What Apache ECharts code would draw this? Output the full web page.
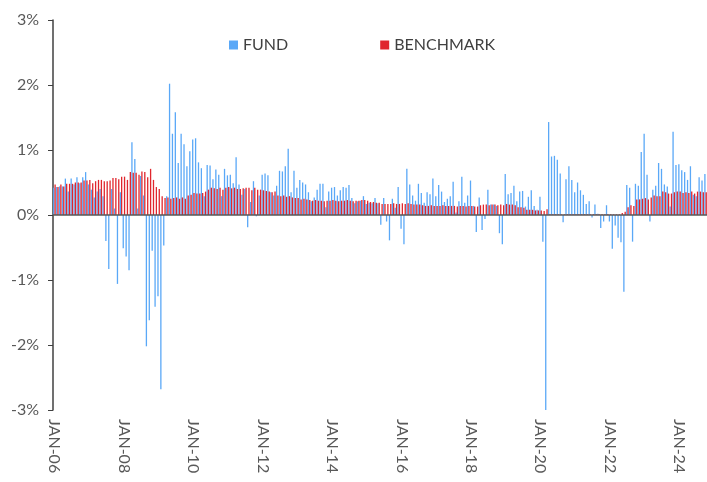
<!DOCTYPE html>
<html>
<head>
<meta charset="utf-8">
<script src="https://cdn.jsdelivr.net/npm/echarts@6/dist/echarts.min.js"></script>
<style>
  html, body { margin: 0; padding: 0; background: #fff; }
  #chart { width: 707px; height: 482px; }
</style>
</head>
<body>
<div id="chart"></div>
<script>
// monthly returns in %, Jan 2006 - Oct 2024
var fund = [
  0.42, 0.43, 0.44, 0.44, 0.56, 0.36, 0.56, 0.47, 0.58, 0.49, 0.58, 0.66,   // 2006
  0.47, 0.39, 0.27, 0.36, 0.40, 0.29, -0.40, -0.83, 0.40, 0.10, -1.06, 0.35, // 2007
  -0.51, -0.64, -0.85, 1.12, 0.86, 0.10, 0.60, 0.30, -2.02, -1.62, -0.55, -1.41, // 2008
  -1.25, -2.68, -0.47, 0.29, 2.02, 1.25, 1.58, 0.80, 1.25, 1.09, 0.75, 0.98, // 2009
  1.16, 1.18, 0.81, 0.72, 0.29, 0.77, 0.76, 0.55, 0.70, 0.62, 0.29, 0.71,   // 2010
  0.61, 0.62, 0.49, 0.89, 0.47, 0.31, 0.40, -0.19, 0.20, 0.52, -0.02, 0.30, // 2011
  0.62, 0.64, 0.61, 0.35, 0.30, 0.45, 0.68, 0.67, 0.75, 1.02, 0.35, 0.68,   // 2012
  0.42, 0.54, 0.50, 0.47, 0.35, 0.21, 0.27, 0.39, 0.48, 0.48, 0.12, 0.36,   // 2013
  0.42, 0.43, 0.30, 0.38, 0.43, 0.42, 0.46, 0.26, 0.18, 0.21, 0.22, 0.29,   // 2014
  0.17, 0.19, 0.18, 0.26, 0.18, -0.15, 0.26, -0.10, -0.39, 0.25, 0.11, 0.43, // 2015
  -0.21, -0.45, 0.71, 0.47, 0.30, 0.22, 0.48, 0.34, 0.19, 0.35, 0.32, 0.56, // 2016
  0.29, 0.46, 0.36, 0.20, 0.25, 0.29, 0.51, 0.04, 0.21, 0.59, 0.19, 0.30,   // 2017
  0.53, 0.14, -0.26, 0.27, -0.23, -0.06, 0.39, 0.16, 0.16, 0.14, -0.28, -0.45, // 2018
  0.63, 0.32, 0.34, 0.45, 0.21, 0.36, 0.37, 0.13, 0.28, 0.38, 0.14, 0.08,   // 2019
  0.28, -0.41, -3.05, 1.43, 0.90, 0.91, 0.85, 0.64, -0.11, 0.55, 0.75, 0.54, // 2020
  0.35, 0.50, 0.38, 0.31, 0.17, 0.21, -0.04, 0.16, 0.02, -0.20, -0.10, 0.15, // 2021
  -0.10, -0.52, -0.16, -0.35, -0.42, -1.18, 0.46, 0.42, -0.41, 0.48, 0.45, 0.97, // 2022
  1.25, 0.62, -0.10, 0.39, 0.45, 0.80, 0.71, 0.47, 0.44, 0.13, 1.28, 0.77,  // 2023
  0.78, 0.69, 0.66, 0.54, 0.75, 0.31, 0.29, 0.58, 0.53, 0.63              // 2024
];

var benchmark = [
  0.47, 0.43, 0.47, 0.44, 0.48, 0.48, 0.48, 0.50, 0.50, 0.50, 0.53, 0.53,
  0.54, 0.49, 0.52, 0.54, 0.54, 0.52, 0.52, 0.53, 0.57, 0.57, 0.55, 0.59,
  0.59, 0.54, 0.66, 0.65, 0.65, 0.62, 0.67, 0.66, 0.58, 0.71, 0.54, 0.43,
  0.40, 0.29, 0.26, 0.27, 0.25, 0.26, 0.27, 0.25, 0.27, 0.25, 0.30, 0.31,
  0.34, 0.33, 0.33, 0.34, 0.36, 0.39, 0.42, 0.41, 0.40, 0.42, 0.39, 0.42,
  0.43, 0.41, 0.42, 0.40, 0.40, 0.41, 0.42, 0.42, 0.38, 0.42, 0.39, 0.39,
  0.38, 0.37, 0.36, 0.35, 0.36, 0.30, 0.29, 0.30, 0.28, 0.29, 0.27, 0.26,
  0.26, 0.24, 0.25, 0.24, 0.23, 0.22, 0.23, 0.22, 0.22, 0.21, 0.22, 0.22,
  0.23, 0.22, 0.21, 0.22, 0.22, 0.23, 0.22, 0.21, 0.22, 0.22, 0.23, 0.23,
  0.22, 0.20, 0.20, 0.19, 0.19, 0.17, 0.17, 0.17, 0.17, 0.18, 0.17, 0.17,
  0.18, 0.17, 0.18, 0.17, 0.16, 0.16, 0.16, 0.15, 0.14, 0.14, 0.15, 0.14,
  0.14, 0.14, 0.15, 0.14, 0.14, 0.14, 0.14, 0.13, 0.14, 0.14, 0.13, 0.14,
  0.14, 0.13, 0.13, 0.15, 0.16, 0.16, 0.15, 0.16, 0.16, 0.15, 0.16, 0.15,
  0.17, 0.16, 0.16, 0.15, 0.12, 0.12, 0.11, 0.08, 0.08, 0.08, 0.07, 0.07,
  0.07, 0.06, 0.09, 0.01, 0.01, 0.01, 0.01, 0.01, 0.01, 0.01, 0.01, 0.01,
  0.01, 0.01, 0.01, 0.01, 0.01, 0.01, 0.01, 0.01, 0.01, 0.01, 0.01, 0.01,
  0.01, 0.01, 0.01, 0.01, 0.03, 0.05, 0.12, 0.15, 0.14, 0.24, 0.24, 0.25,
  0.26, 0.24, 0.27, 0.30, 0.29, 0.29, 0.36, 0.35, 0.33, 0.33, 0.35, 0.36,
  0.36, 0.34, 0.35, 0.34, 0.36, 0.33, 0.36, 0.36, 0.35, 0.35
];

var monthNames = ['JAN', 'FEB', 'MAR', 'APR', 'MAY', 'JUN', 'JUL', 'AUG', 'SEP', 'OCT', 'NOV', 'DEC'];
var startYear = 2006;

// category labels: JAN-06, FEB-06, ...
var months = [];
for (var i = 0; i < fund.length; i++) {
  var yy = (startYear + Math.floor(i / 12)) % 100;
  months.push(monthNames[i % 12] + '-' + (yy < 10 ? '0' + yy : '' + yy));
}

var yTicks = [-3, -2, -1, 0, 1, 2, 3];

var chart = echarts.init(document.getElementById('chart'));

var font = 'Lato, "Noto Sans", sans-serif';

chart.setOption({
  animation: false,
  legend: {
    top: 32,
    left: 224,
    itemWidth: 9,
    itemHeight: 9,
    itemGap: 92,
    icon: 'rect',
    textStyle: { color: '#404040', fontSize: 16, fontFamily: font },
    data: [
      { name: 'FUND', itemStyle: { color: '#5aa8f7' } },
      { name: 'BENCHMARK', itemStyle: { color: '#e0262d' } }
    ]
  },
  grid: { left: 53, right: 0, top: 20, bottom: 72 },
  xAxis: {
    type: 'category',
    data: months,
    axisLine: { show: false, onZero: false },
    axisTick: { show: false },
    axisLabel: {
      rotate: -90,
      margin: 9,
      color: '#595959',
      fontSize: 16,
      fontFamily: font,
      interval: function (idx) { return idx % 24 === 0; }
    }
  },
  yAxis: {
    type: 'value',
    min: yTicks[0],
    max: yTicks[yTicks.length - 1],
    interval: 1,
    axisLine: { show: true, lineStyle: { color: '#404040', width: 1.5 } },
    axisTick: { show: true, length: 5, lineStyle: { color: '#404040' } },
    splitLine: { show: false },
    axisLabel: {
      formatter: '{value}%',
      margin: 14,
      color: '#595959',
      fontSize: 16,
      fontFamily: font
    }
  },
  series: [
    {
      name: 'FUND',
      type: 'bar',
      data: fund,
      barWidth: 1.3,
      barGap: '0%',
      itemStyle: { color: '#5aa8f7' },
      markLine: {
        silent: true,
        symbol: 'none',
        label: { show: false },
        lineStyle: { color: '#595959', width: 1.5, type: 'solid' },
        data: [{ yAxis: 0 }]
      }
    },
    {
      name: 'BENCHMARK',
      type: 'bar',
      data: benchmark,
      barWidth: 1.3,
      itemStyle: { color: '#e0262d' }
    }
  ]
});
</script>
</body>
</html>
